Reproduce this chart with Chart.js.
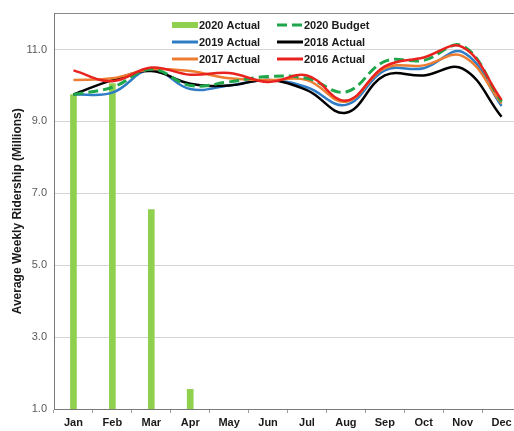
<!DOCTYPE html>
<html>
<head>
<meta charset="utf-8">
<script src="https://cdn.jsdelivr.net/npm/chart.js@4"></script>
<style>
  html, body { margin: 0; padding: 0; background: #fff; overflow: hidden; }
  #wrap { width: 521px; height: 431px; }
</style>
</head>
<body>
<div id="wrap"><canvas id="chart"></canvas></div>
<script>
// dati (milioni di corse settimanali)
const months = ['Jan', 'Feb', 'Mar', 'Apr', 'May', 'Jun', 'Jul', 'Aug', 'Sep', 'Oct', 'Nov', 'Dec'];
const actual2020 = [9.75, 10.05, 6.55, 1.55, null, null, null, null, null, null, null, null];
const budget2020 = [9.75, 9.95, 10.45, 10.0, 10.1, 10.25, 10.2, 9.82, 10.67, 10.7, 11.1, 9.55];
const actual2019 = [9.75, 9.8, 10.45, 9.9, 10.0, 10.15, 9.95, 9.46, 10.42, 10.48, 10.93, 9.43];
const actual2018 = [9.75, 10.15, 10.4, 10.05, 10.0, 10.15, 9.87, 9.24, 10.28, 10.28, 10.47, 9.13];
const actual2017 = [10.15, 10.2, 10.45, 10.4, 10.2, 10.15, 10.15, 9.55, 10.48, 10.56, 10.82, 9.5];
const actual2016 = [10.42, 10.12, 10.5, 10.3, 10.35, 10.1, 10.28, 9.58, 10.53, 10.78, 11.07, 9.6];
const yTicks = [1, 3, 5, 7, 9, 11];

const FONT = "Arial, 'Liberation Sans', sans-serif";

const lineDs = (label, data, color, order, extra) => Object.assign({
    type: 'line',
    label: label,
    data: data,
    borderColor: color,
    backgroundColor: color,
    borderWidth: 2.5,
    tension: 0.4,
    pointRadius: 0,
    pointHoverRadius: 0,
    fill: false,
    order: order
}, extra || {});

// legenda disegnata dentro l'area del grafico, 2 colonne x 3 righe
const insideLegend = {
    id: 'insideLegend',
    afterDatasetsDraw(chart) {
        const ctx = chart.ctx;
        const rows = [25, 42, 59];
        const sampleX = [172, 277];
        const textX = [199, 304];
        ctx.save();
        ctx.font = 'bold 11px ' + FONT;
        ctx.textBaseline = 'middle';
        ctx.fillStyle = '#1a1a1a';
        chart.data.datasets.forEach((ds, i) => {
            const col = i % 2;
            const y = rows[Math.floor(i / 2)];
            const x0 = sampleX[col];
            ctx.beginPath();
            ctx.strokeStyle = ds.borderColor;
            ctx.lineWidth = ds.type === 'line' ? 3 : 6;
            ctx.setLineDash(ds.borderDash || []);
            ctx.moveTo(x0, y);
            ctx.lineTo(x0 + 26, y);
            ctx.stroke();
            ctx.setLineDash([]);
            ctx.fillText(ds.label, textX[col], y + 0.5);
        });
        ctx.restore();
    }
};

new Chart(document.getElementById('chart'), {
    type: 'bar',
    data: {
        labels: months,
        datasets: [
            {
                label: '2020 Actual',
                data: actual2020,
                backgroundColor: '#8fd14f',
                borderColor: '#8fd14f',
                barThickness: 6,
                order: 10
            },
            lineDs('2020 Budget', budget2020, '#1fa64a', 2, { borderDash: [10, 5], borderWidth: 3 }),
            lineDs('2019 Actual', actual2019, '#2f7cc6', 5),
            lineDs('2018 Actual', actual2018, '#000000', 4),
            lineDs('2017 Actual', actual2017, '#ed7d31', 3),
            lineDs('2016 Actual', actual2016, '#e8221e', 1)
        ]
    },
    options: {
        responsive: true,
        maintainAspectRatio: false,
        animation: false,
        layout: { padding: { top: 8, right: 0, left: 0, bottom: 0 } },
        plugins: {
            legend: { display: false },
            tooltip: { enabled: false }
        },
        scales: {
            x: {
                offset: true,
                grid: { drawOnChartArea: false, offset: true, tickLength: 4, color: '#9a9a9a' },
                border: { color: '#7a7a7a', width: 1 },
                ticks: { color: '#1a1a1a', font: { family: FONT, size: 11, weight: 'bold' }, padding: 3, maxRotation: 0 },
                afterFit(scale) { scale.height = 22; }
            },
            y: {
                min: 1,
                max: 12,
                beginAtZero: false,
                afterBuildTicks(scale) {
                    scale.ticks = yTicks.concat([12]).map(v => ({ value: v }));
                },
                grid: {
                    drawTicks: false,
                    color: ctx => (ctx.tick && ctx.tick.value === 12) ? '#8a8a8a' : '#d4d4d4',
                    lineWidth: 1
                },
                border: { color: '#7a7a7a', width: 1 },
                ticks: {
                    color: '#595959',
                    padding: 7,
                    font: { family: FONT, size: 11 },
                    callback: v => v === 12 ? '' : v.toFixed(1)
                },
                title: {
                    display: true,
                    text: 'Average Weekly Ridership (Millions)',
                    color: '#1a1a1a',
                    font: { family: FONT, size: 12, weight: 'bold' },
                    padding: { top: 10, bottom: 0 }
                },
                afterFit(scale) { scale.width = 54; }
            }
        }
    },
    plugins: [insideLegend]
});
</script>
</body>
</html>
